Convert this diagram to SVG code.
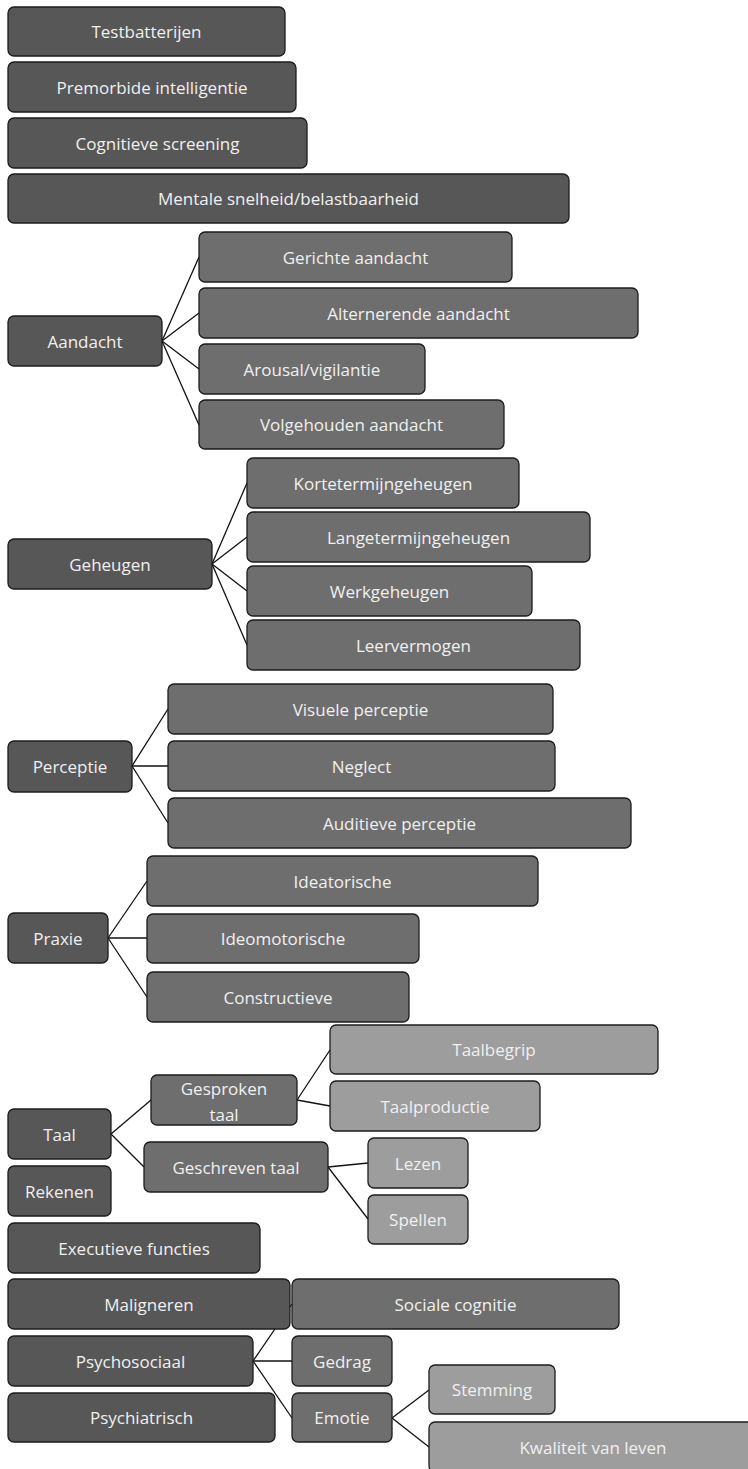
<svg xmlns="http://www.w3.org/2000/svg" width="748" height="1469" viewBox="0 0 748 1469">
<style>
rect{stroke:#1c1c1c;stroke-width:1.3}
.d{fill:#575757}
.m{fill:#6e6e6e}
.l{fill:#9d9d9d}
text{font-family:"Open Sans","Noto Sans","Liberation Sans",sans-serif;font-size:17px;fill:#f0f0f0;text-anchor:middle;dominant-baseline:central}
#connectors line{stroke:#111;stroke-width:1.3}
</style>
<rect width="748" height="1469" fill="#fff" style="stroke:none"/>
<g id="connectors">
<line x1="162" y1="341" x2="199" y2="257"/>
<line x1="162" y1="341" x2="199" y2="313"/>
<line x1="162" y1="341" x2="199" y2="369"/>
<line x1="162" y1="341" x2="199" y2="425"/>
<line x1="212" y1="564" x2="247" y2="483"/>
<line x1="212" y1="564" x2="247" y2="537"/>
<line x1="212" y1="564" x2="247" y2="591"/>
<line x1="212" y1="564" x2="247" y2="645"/>
<line x1="132" y1="766" x2="168" y2="709"/>
<line x1="132" y1="766" x2="168" y2="766"/>
<line x1="132" y1="766" x2="168" y2="823"/>
<line x1="108" y1="938" x2="147" y2="881"/>
<line x1="108" y1="938" x2="147" y2="938"/>
<line x1="108" y1="938" x2="147" y2="997"/>
<line x1="111" y1="1134" x2="151" y2="1100"/>
<line x1="111" y1="1134" x2="144" y2="1167"/>
<line x1="297" y1="1100" x2="330" y2="1050"/>
<line x1="297" y1="1100" x2="330" y2="1106"/>
<line x1="328" y1="1167" x2="368" y2="1163"/>
<line x1="328" y1="1167" x2="368" y2="1219"/>
<line x1="253" y1="1361" x2="292" y2="1304"/>
<line x1="253" y1="1361" x2="292" y2="1361"/>
<line x1="253" y1="1361" x2="292" y2="1418"/>
<line x1="392" y1="1418" x2="429" y2="1390"/>
<line x1="392" y1="1418" x2="429" y2="1447"/>
</g>
<g id="testbatterijen"><rect class="d" x="8" y="7" width="277" height="49" rx="6"/><text x="146.5" y="31.5">Testbatterijen</text></g>
<g id="premorbide"><rect class="d" x="8" y="62" width="288" height="50" rx="6"/><text x="152" y="87">Premorbide intelligentie</text></g>
<g id="cognitieve"><rect class="d" x="8" y="118" width="299" height="50" rx="6"/><text x="157.5" y="143">Cognitieve screening</text></g>
<g id="mentale"><rect class="d" x="8" y="174" width="561" height="49" rx="6"/><text x="288.5" y="198.5">Mentale snelheid/belastbaarheid</text></g>
<g id="aandacht"><rect class="d" x="8" y="316" width="154" height="50" rx="6"/><text x="85" y="341">Aandacht</text></g>
<g id="gerichte"><rect class="m" x="199" y="232" width="313" height="50" rx="6"/><text x="355.5" y="257">Gerichte aandacht</text></g>
<g id="alternerende"><rect class="m" x="199" y="288" width="439" height="50" rx="6"/><text x="418.5" y="313">Alternerende aandacht</text></g>
<g id="arousal"><rect class="m" x="199" y="344" width="226" height="50" rx="6"/><text x="312" y="369">Arousal/vigilantie</text></g>
<g id="volgehouden"><rect class="m" x="199" y="400" width="305" height="49" rx="6"/><text x="351.5" y="424.5">Volgehouden aandacht</text></g>
<g id="geheugen"><rect class="d" x="8" y="539" width="204" height="50" rx="6"/><text x="110" y="564">Geheugen</text></g>
<g id="kortetermijn"><rect class="m" x="247" y="458" width="272" height="50" rx="6"/><text x="383" y="483">Kortetermijngeheugen</text></g>
<g id="langetermijn"><rect class="m" x="247" y="512" width="343" height="50" rx="6"/><text x="418.5" y="537">Langetermijngeheugen</text></g>
<g id="werkgeheugen"><rect class="m" x="247" y="566" width="285" height="50" rx="6"/><text x="389.5" y="591">Werkgeheugen</text></g>
<g id="leervermogen"><rect class="m" x="247" y="620" width="333" height="50" rx="6"/><text x="413.5" y="645">Leervermogen</text></g>
<g id="perceptie"><rect class="d" x="8" y="741" width="124" height="51" rx="6"/><text x="70" y="766">Perceptie</text></g>
<g id="visuele"><rect class="m" x="168" y="684" width="385" height="50" rx="6"/><text x="360.5" y="709">Visuele perceptie</text></g>
<g id="neglect"><rect class="m" x="168" y="741" width="387" height="50" rx="6"/><text x="361.5" y="766">Neglect</text></g>
<g id="auditieve"><rect class="m" x="168" y="798" width="463" height="50" rx="6"/><text x="399.5" y="823">Auditieve perceptie</text></g>
<g id="praxie"><rect class="d" x="8" y="913" width="100" height="50" rx="6"/><text x="58" y="938">Praxie</text></g>
<g id="ideatorische"><rect class="m" x="147" y="856" width="391" height="50" rx="6"/><text x="342.5" y="881">Ideatorische</text></g>
<g id="ideomotorische"><rect class="m" x="147" y="914" width="272" height="49" rx="6"/><text x="283" y="938.5">Ideomotorische</text></g>
<g id="constructieve"><rect class="m" x="147" y="972" width="262" height="50" rx="6"/><text x="278" y="997">Constructieve</text></g>
<g id="taal"><rect class="d" x="8" y="1109" width="103" height="50" rx="6"/><text x="59.5" y="1134">Taal</text></g>
<g id="rekenen"><rect class="d" x="8" y="1166" width="103" height="50" rx="6"/><text x="59.5" y="1191">Rekenen</text></g>
<g id="gesproken"><rect class="m" x="151" y="1075" width="146" height="50" rx="6"/><text x="224" y="1088">Gesproken</text><text x="224" y="1114">taal</text></g>
<g id="geschreven"><rect class="m" x="144" y="1142" width="184" height="50" rx="6"/><text x="236" y="1167">Geschreven taal</text></g>
<g id="taalbegrip"><rect class="l" x="330" y="1025" width="328" height="49" rx="6"/><text x="494" y="1049.5">Taalbegrip</text></g>
<g id="taalproductie"><rect class="l" x="330" y="1081" width="210" height="50" rx="6"/><text x="435" y="1106">Taalproductie</text></g>
<g id="lezen"><rect class="l" x="368" y="1138" width="100" height="50" rx="6"/><text x="418" y="1163">Lezen</text></g>
<g id="spellen"><rect class="l" x="368" y="1195" width="100" height="49" rx="6"/><text x="418" y="1219.5">Spellen</text></g>
<g id="executieve"><rect class="d" x="8" y="1223" width="252" height="50" rx="6"/><text x="134" y="1248">Executieve functies</text></g>
<g id="sociale"><rect class="m" x="292" y="1279" width="327" height="50" rx="6"/><text x="455.5" y="1304">Sociale cognitie</text></g>
<g id="maligneren"><rect class="d" x="8" y="1279" width="282" height="50" rx="6"/><text x="149" y="1304">Maligneren</text></g>
<g id="psychosociaal"><rect class="d" x="8" y="1336" width="245" height="50" rx="6"/><text x="130.5" y="1361">Psychosociaal</text></g>
<g id="psychiatrisch"><rect class="d" x="8" y="1393" width="267" height="49" rx="6"/><text x="141.5" y="1417.5">Psychiatrisch</text></g>
<g id="gedrag"><rect class="m" x="292" y="1336" width="100" height="50" rx="6"/><text x="342" y="1361">Gedrag</text></g>
<g id="emotie"><rect class="m" x="292" y="1393" width="100" height="49" rx="6"/><text x="342" y="1417.5">Emotie</text></g>
<g id="stemming"><rect class="l" x="429" y="1365" width="126" height="49" rx="6"/><text x="492" y="1389.5">Stemming</text></g>
<g id="kwaliteit"><rect class="l" x="429" y="1422" width="328" height="50" rx="6"/><text x="593" y="1447">Kwaliteit van leven</text></g>
</svg>
